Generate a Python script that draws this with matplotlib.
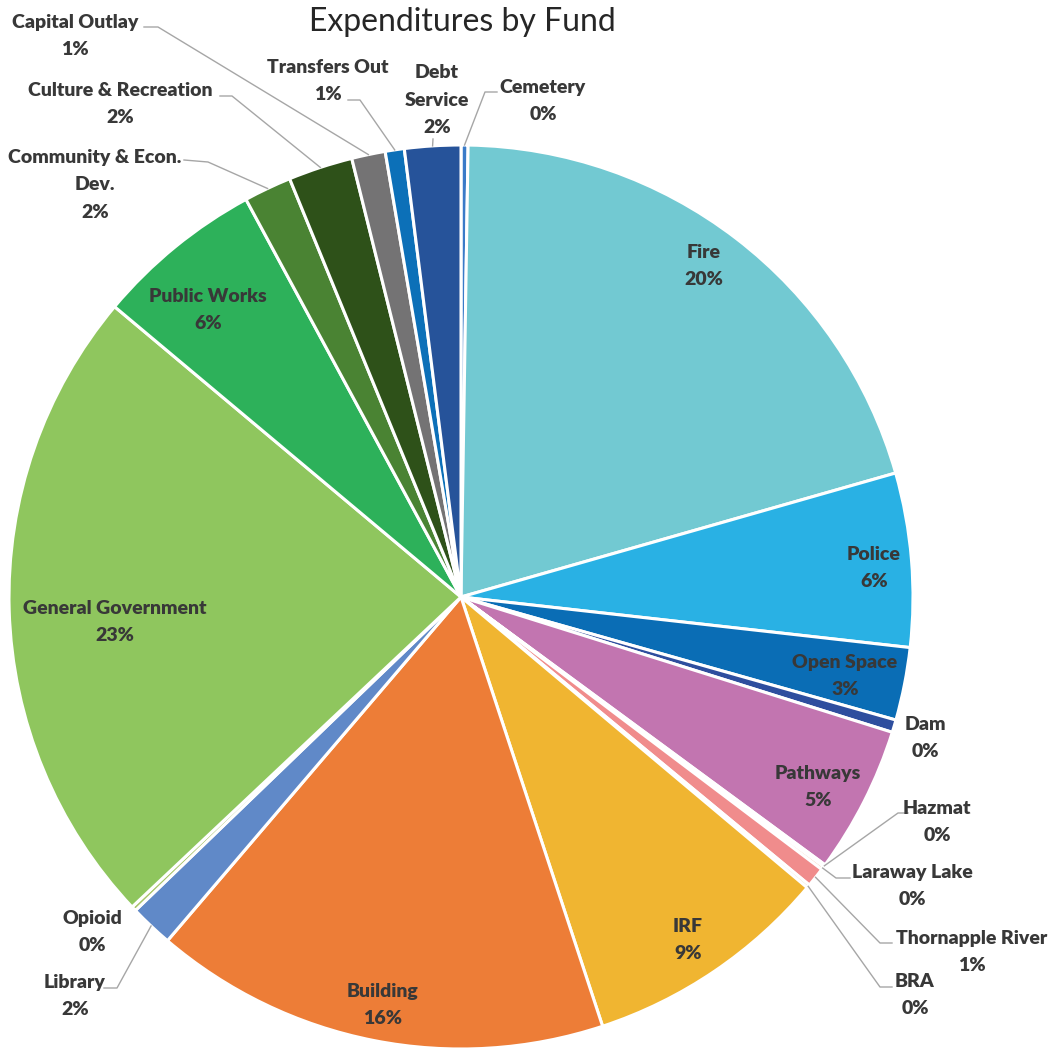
import matplotlib
matplotlib.use('Agg')
import matplotlib.pyplot as plt
import numpy as np

# funds, clockwise from 12 o'clock (percent of total expenditures)
funds = ['Cemetery', 'Fire', 'Police', 'Open Space', 'Dam', 'Pathways', 'Hazmat',
         'Laraway Lake', 'Thornapple River', 'BRA', 'IRF', 'Building', 'Library',
         'Opioid', 'General Government', 'Public Works', 'Community & Econ.\nDev.',
         'Culture & Recreation', 'Capital Outlay', 'Transfers Out', 'Debt\nService']
shares = [0.25, 20.3, 6.2, 2.6, 0.45, 5.25, 0.08,
          0.12, 0.7, 0.12, 8.8, 16.3, 1.55,
          0.17, 23.1, 6.0, 1.7,
          2.3, 1.2, 0.68, 2.0]
colors = ['#3a7bc8', '#72c9d2', '#29b1e4', '#0a6db5', '#2e4e9e', '#c275b0', '#b9a3d0',
          '#f4b183', '#f08c8c', '#e6d3a6', '#f0b531', '#ed7d37', '#6089c8',
          '#a9c46a', '#8fc65e', '#2db15a', '#4a8333',
          '#2e5119', '#747374', '#0c70b8', '#26539a']

W, H = 1060, 1049
cx, cy, R = 461, 597, 452   # pie centre / radius in pixels


def py(y):
    return H - y


fig = plt.figure(figsize=(W / 100, H / 100), dpi=100)
ax = fig.add_axes([0, 0, 1, 1])

wedges, _ = ax.pie(shares, colors=colors, startangle=90, counterclock=False,
                   center=(cx, py(cy)), radius=R, frame=True,
                   wedgeprops=dict(edgecolor='white', linewidth=2.2))
ax.set_xlim(0, W)
ax.set_ylim(0, H)
ax.set_aspect('equal')
ax.axis('off')

total = sum(shares)
pct = [round(v / total * 100) for v in shares]

# label block centres (pixels) and leader-line bends
label_pos = {
    'Cemetery': (543, 101), 'Fire': (704, 266), 'Police': (874, 568),
    'Open Space': (845, 676), 'Dam': (925, 738), 'Pathways': (818, 787),
    'Hazmat': (937, 822), 'Laraway Lake': (912, 886),
    'Thornapple River': (972, 952), 'BRA': (915, 995), 'IRF': (688, 940),
    'Building': (383, 1005), 'Library': (75, 996), 'Opioid': (92, 932),
    'General Government': (115, 622), 'Public Works': (208, 310),
    'Community & Econ.\nDev.': (95, 185), 'Culture & Recreation': (120, 104),
    'Capital Outlay': (75, 36), 'Transfers Out': (328, 81),
    'Debt\nService': (437, 100),
}
leaders = {
    'Cemetery': [(485, 92), (497, 92)],
    'Transfers Out': [(360, 100), (348, 100)],
    'Debt\nService': [(433, 139)],
    'Capital Outlay': [(158, 27), (144, 27)],
    'Culture & Recreation': [(232, 96), (220, 96)],
    'Community & Econ.\nDev.': [(208, 162), (184, 160)],
    'Hazmat': [(898, 813), (908, 813)],
    'Laraway Lake': [(836, 878), (850, 878)],
    'Thornapple River': [(880, 943), (892, 943)],
    'BRA': [(880, 987), (892, 987)],
    'Library': [(117, 988), (104, 988)],
}

for w, name, p in zip(wedges, funds, pct):
    x, y = label_pos[name]
    ax.text(x, py(y), f'{name}\n{p}%', ha='center', va='center',
            fontsize=14, fontweight='heavy', family='Lato', color='#383838',
            linespacing=1.78)
    if name in leaders:
        mid = np.deg2rad((w.theta1 + w.theta2) / 2)
        sx = cx + R * np.cos(mid)
        sy = py(cy) + R * np.sin(mid)
        pts = [(sx, sy)] + [(bx, py(by)) for bx, by in leaders[name]]
        xs, ys = zip(*pts)
        ax.plot(xs, ys, color='#a6a6a6', linewidth=1)

ax.text(462, py(22), 'Expenditures by Fund', ha='center', va='center',
        fontsize=23, family='Lato', color='#262626')

plt.savefig('out.png', dpi=100)
